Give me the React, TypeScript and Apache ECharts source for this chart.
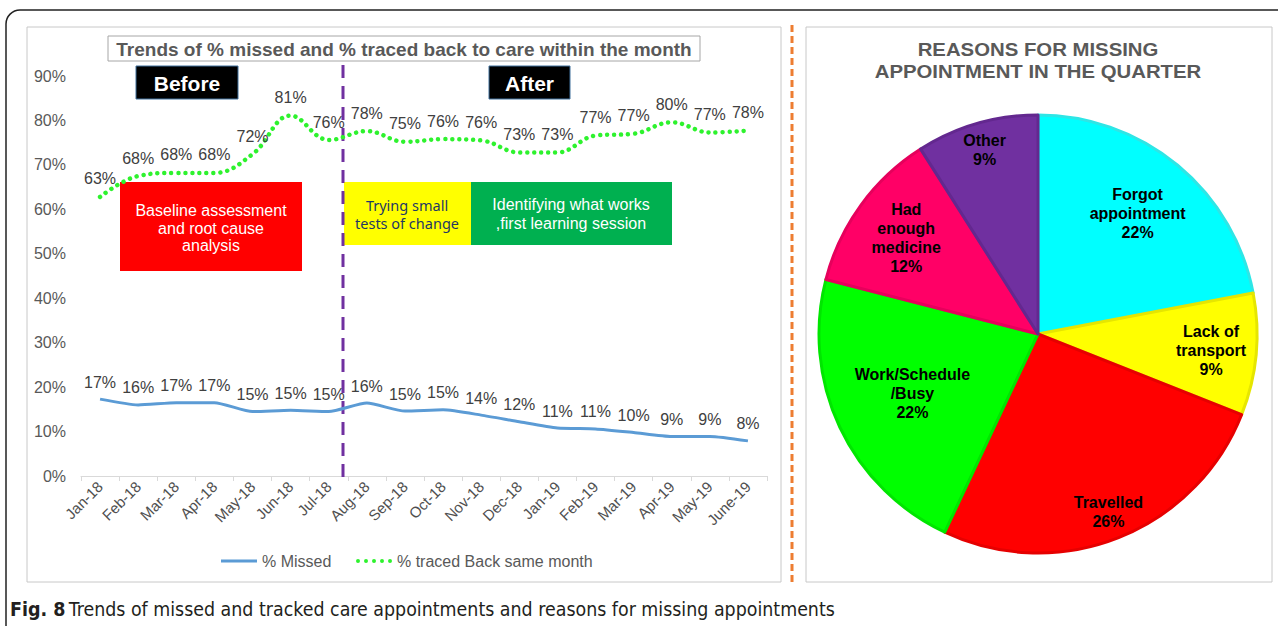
import React, { useEffect, useRef } from "react";
import * as echarts from "echarts";

const categories = ["Jan-18", "Feb-18", "Mar-18", "Apr-18", "May-18", "Jun-18", "Jul-18", "Aug-18", "Sep-18", "Oct-18", "Nov-18", "Dec-18", "Jan-19", "Feb-19", "Mar-19", "Apr-19", "May-19", "June-19"];
const missed = [17.3, 16.0, 16.5, 16.5, 14.5, 14.8, 14.5, 16.4, 14.6, 14.9, 13.7, 12.2, 10.8, 10.6, 9.8, 8.9, 8.9, 7.9];
const traced = [62.8, 67.5, 68.2, 68.2, 72.4, 81.1, 75.6, 77.6, 75.2, 75.8, 75.5, 72.8, 72.8, 76.6, 77.0, 79.6, 77.3, 77.7];
const yTicks = [0, 10, 20, 30, 40, 50, 60, 70, 80, 90];

const pieNames = ["Forgot\nappointment", "Lack of\ntransport", "Travelled", "Work/Schedule\n/Busy", "Had\nenough\nmedicine", "Other"];
const pieValues = [22, 9, 26, 22, 12, 9];

// styles / positions (not data)
const pieColors = ["#00ffff", "#ffff00", "#ff0000", "#00ff00", "#ff0066", "#7030a0"];
const pieBorders = ["#2ee6e6", "#e6e600", "#e60000", "#00e600", "#e6005c", "#63288f"];
const pieLabelFrac = [0.70, 0.78, 0.86, 0.62, 0.73, 0.86];

const FONT = "'Liberation Sans', Arial, sans-serif";
const CAP_FONT = "'DejaVu Sans Condensed', 'Liberation Sans Narrow', sans-serif";
const PIE_R = 219;
const PIE_C = [1038, 334];
const DOTS_ICON = "path://M0,2a2,2 0 1,0 4,0a2,2 0 1,0 -4,0M8,2a2,2 0 1,0 4,0a2,2 0 1,0 -4,0M16,2a2,2 0 1,0 4,0a2,2 0 1,0 -4,0M24,2a2,2 0 1,0 4,0a2,2 0 1,0 -4,0M32,2a2,2 0 1,0 4,0a2,2 0 1,0 -4,0";

export default function App() {
  const ref = useRef<HTMLDivElement>(null);
  useEffect(() => {
    if (!ref.current) return;
    const chart = echarts.init(ref.current, null, { renderer: "svg" });

    const pieData = pieNames.map((n, i) => ({
      name: n,
      value: pieValues[i],
      itemStyle: { color: pieColors[i], borderColor: pieBorders[i], borderWidth: 3 },
    }));

    const labelSeries = pieNames.map((_, k) => ({
      type: "pie",
      silent: true,
      z: 5,
      center: PIE_C,
      radius: [0, 2 * pieLabelFrac[k] * PIE_R],
      startAngle: 90,
      clockwise: true,
      avoidLabelOverlap: false,
      emphasis: { disabled: true },
      labelLine: { show: false },
      data: pieNames.map((n, i) => ({
        name: n,
        value: pieValues[i],
        itemStyle: { color: "rgba(0,0,0,0)", borderWidth: 0 },
        label: {
          show: i === k,
          position: "inside",
          formatter: (p: any) => `${p.name}\n${p.value}%`,
          color: "#000",
          fontWeight: "bold",
          fontSize: 16,
          lineHeight: 19,
          fontFamily: FONT,
          align: "center",
        },
      })),
    }));

    const dataLabel = {
      show: true,
      position: "top",
      distance: 9,
      color: "#404040",
      fontSize: 16,
      fontFamily: FONT,
      formatter: (p: any) => `${Math.round(p.value)}%`,
    };

    const option: any = {
      animation: false,
      textStyle: { fontFamily: FONT },
      grid: { left: 81, right: 511, top: 76, bottom: 150, containLabel: false },
      xAxis: {
        type: "category",
        data: categories,
        boundaryGap: true,
        axisLine: { lineStyle: { color: "#d9d9d9", width: 1 } },
        axisTick: { show: true, length: 5, lineStyle: { color: "#d9d9d9" } },
        axisLabel: { rotate: 45, color: "#505050", fontSize: 15, margin: 8, interval: 0, fontFamily: FONT },
      },
      yAxis: {
        type: "value",
        min: yTicks[0],
        max: yTicks[yTicks.length - 1],
        interval: 10,
        axisLine: { show: false },
        axisTick: { show: false },
        splitLine: { show: false },
        axisLabel: { formatter: "{value}%", color: "#595959", fontSize: 16, margin: 15, fontFamily: FONT },
      },
      legend: [
        {
          left: 216,
          top: 548,
          icon: "rect",
          itemWidth: 36,
          itemHeight: 3,
          itemGap: 0,
          textStyle: { color: "#595959", fontSize: 16, fontFamily: FONT },
          data: ["% Missed"],
        },
        {
          left: 351,
          top: 548,
          icon: DOTS_ICON,
          itemWidth: 36,
          itemHeight: 4,
          textStyle: { color: "#595959", fontSize: 16, fontFamily: FONT },
          data: ["% traced Back same month"],
        },
      ],
      series: [
        {
          name: "% Missed",
          type: "line",
          data: missed,
          smooth: 0.2,
          symbol: "circle",
          symbolSize: 0,
          showSymbol: true,
          lineStyle: { color: "#5b9bd5", width: 3 },
          itemStyle: { color: "#5b9bd5" },
          label: dataLabel,
        },
        {
          name: "% traced Back same month",
          type: "line",
          data: traced,
          smooth: 0.4,
          symbol: "circle",
          symbolSize: 0,
          showSymbol: true,
          lineStyle: { color: "#2ef22e", width: 4.5, type: [0.01, 7], cap: "round" },
          itemStyle: { color: "#2ef22e" },
          label: { ...dataLabel, distance: 10 },
        },
        {
          type: "pie",
          z: 3,
          center: PIE_C,
          radius: [0, PIE_R],
          startAngle: 90,
          clockwise: true,
          silent: true,
          avoidLabelOverlap: false,
          label: { show: false },
          labelLine: { show: false },
          data: pieData,
        },
        ...labelSeries,
      ],
      graphic: [
        // outer frame
        { type: "rect", z: 1, shape: { x: 6, y: 10, width: 1320, height: 700, r: 14 }, style: { fill: "none", stroke: "#222", lineWidth: 1.5 } },
        // left panel
        { type: "rect", z: 1, shape: { x: 27, y: 27, width: 754, height: 555 }, style: { fill: "none", stroke: "#c8c8c8", lineWidth: 1 } },
        // right panel
        { type: "rect", z: 1, shape: { x: 806, y: 27, width: 466, height: 555 }, style: { fill: "none", stroke: "#c8c8c8", lineWidth: 1 } },
        // orange divider
        { type: "line", z: 1, shape: { x1: 792, y1: 25, x2: 792, y2: 582 }, style: { stroke: "#ed7d31", lineWidth: 3, lineDash: [7, 4] } },
        // chart title box
        { type: "rect", z: 1, shape: { x: 108, y: 36, width: 592, height: 25 }, style: { fill: "#fff", stroke: "#a6a6a6", lineWidth: 1 } },
        { type: "text", z: 2, x: 404, y: 49, style: { text: "Trends of % missed and % traced back to care within the month", font: `bold 19px ${FONT}`, fill: "#595959", align: "center", verticalAlign: "middle" } },
        // Before / After
        { type: "rect", z: 1, shape: { x: 136, y: 66, width: 102, height: 33 }, style: { fill: "#000", stroke: "#41719c", lineWidth: 1 } },
        { type: "text", z: 2, x: 187, y: 83, style: { text: "Before", font: `bold 21px ${FONT}`, fill: "#fff", align: "center", verticalAlign: "middle" } },
        { type: "rect", z: 1, shape: { x: 489, y: 66, width: 81, height: 33 }, style: { fill: "#000", stroke: "#41719c", lineWidth: 1 } },
        { type: "text", z: 2, x: 529.5, y: 83, style: { text: "After", font: `bold 21px ${FONT}`, fill: "#fff", align: "center", verticalAlign: "middle" } },
        // phase boxes
        { type: "rect", z: 1, shape: { x: 120, y: 182, width: 182, height: 89 }, style: { fill: "#ff0000" } },
        { type: "text", z: 2, x: 211, y: 228, style: { text: "Baseline assessment\nand root cause\nanalysis", font: `16px ${FONT}`, lineHeight: 17.5, fill: "#fff", align: "center", verticalAlign: "middle" } },
        { type: "rect", z: 1, shape: { x: 344, y: 182, width: 127, height: 63 }, style: { fill: "#ffff00" } },
        { type: "text", z: 2, x: 407, y: 214, style: { text: "Trying small\ntests of change", font: `14.5px 'Noto Sans', 'Open Sans', sans-serif`, lineHeight: 18, fill: "#1f3864", align: "center", verticalAlign: "middle" } },
        { type: "rect", z: 1, shape: { x: 471, y: 182, width: 201, height: 63 }, style: { fill: "#00b050" } },
        { type: "text", z: 2, x: 571, y: 214, style: { text: "Identifying what works\n,first learning session", font: `16px ${FONT}`, lineHeight: 19, fill: "#fff", align: "center", verticalAlign: "middle" } },
        // purple divider
        { type: "line", z: 3, shape: { x1: 343, y1: 65, x2: 343, y2: 478 }, style: { stroke: "#7030a0", lineWidth: 3, lineDash: [13, 8] } },
        // pie title
        { type: "text", z: 2, x: 1038, y: 60, scaleX: 1.1, style: { text: "REASONS FOR MISSING\nAPPOINTMENT IN THE QUARTER", font: `bold 18.5px ${FONT}`, lineHeight: 22, fill: "#595959", align: "center", verticalAlign: "middle" } },
        // caption
        {
          type: "text", z: 2, x: 10, y: 609,
          style: {
            text: "{b|Fig. 8} {n|Trends of missed and tracked care appointments and reasons for missing appointments}",
            verticalAlign: "middle",
            rich: {
              b: { font: `bold 19.5px ${CAP_FONT}`, fill: "#231f20" },
              n: { font: `19.4px ${CAP_FONT}`, fill: "#231f20" },
            },
          },
        },
      ],
    };

    chart.setOption(option);
    return () => chart.dispose();
  }, []);

  return <div ref={ref} style={{ position: "absolute", left: 0, top: 0, width: 1278, height: 626, background: "#fff" }} />;
}
